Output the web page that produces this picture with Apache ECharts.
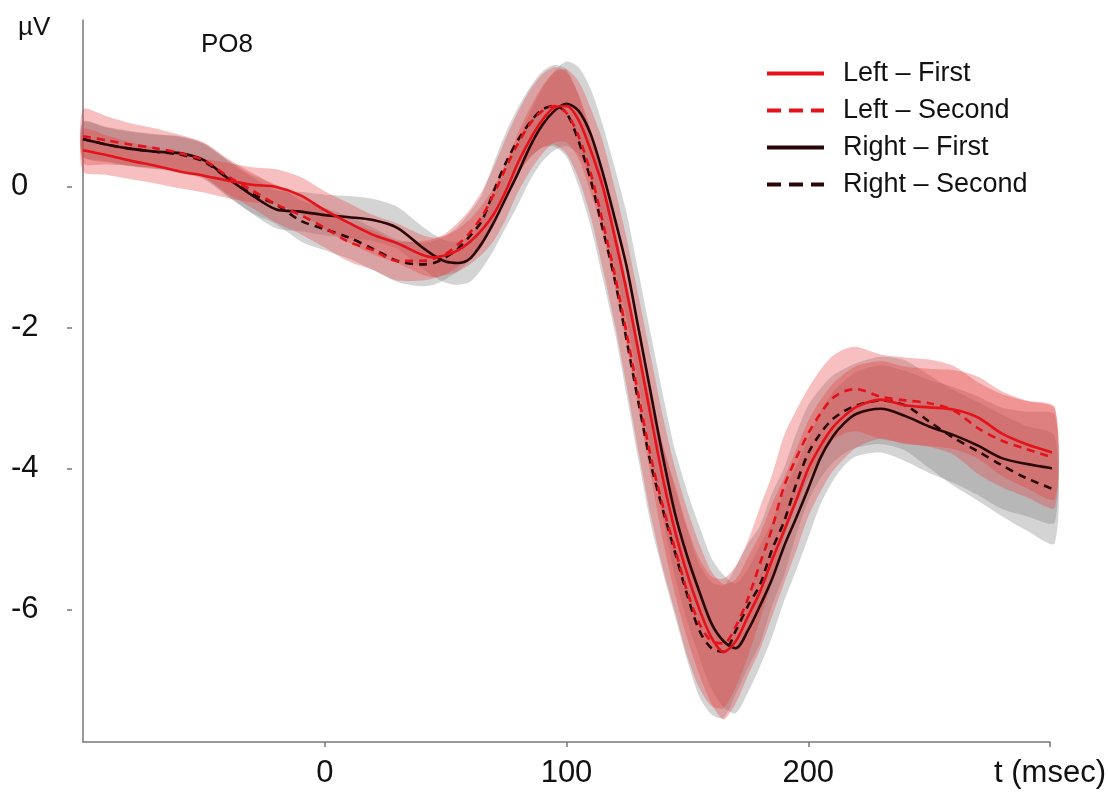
<!DOCTYPE html>
<html>
<head>
<meta charset="utf-8">
<script src="https://cdn.jsdelivr.net/npm/echarts@6/dist/echarts.min.js"></script>
<style>
html,body{margin:0;padding:0;background:#fff;}
#c{width:1108px;height:798px;}
</style>
</head>
<body>
<div id="c"></div>
<script>
// time points (msec)
const T = [-100,-90,-80,-70,-60,-50,-40,-30,-20,-10, 0,10,20,30,40,45,50,55,60,65, 70,75,80,85,90,95,100,105,110,115, 120,125,130,135,140,145,150,155,160,165, 170,175,180,185,190,195,200,205,210,215, 220,230,240,250,260,270,280,290,302];

// mean amplitudes (µV)
const leftFirst = [0.52,0.45,0.37,0.30,0.22,0.16,0.09,0.03,0.00,-0.12, -0.33,-0.51,-0.68,-0.80,-0.96,-1.00,-0.97,-0.90,-0.78,-0.61, -0.38,-0.05,0.35,0.68,0.95,1.13,1.15,0.95,0.52,0.00, -0.72,-1.50,-2.38,-3.28,-4.16,-4.90,-5.50,-6.00,-6.40,-6.60, -6.45,-6.10,-5.75,-5.30,-4.88,-4.45,-4.00,-3.68,-3.42,-3.25, -3.12,-3.02,-3.10,-3.13,-3.16,-3.27,-3.50,-3.65,-3.78];
const leftSecond = [0.72,0.66,0.60,0.55,0.48,0.38,0.15,-0.05,-0.25,-0.40, -0.58,-0.78,-0.90,-1.05,-1.05,-1.02,-0.95,-0.82,-0.65,-0.42, -0.10,0.28,0.62,0.90,1.08,1.15,1.05,0.72,0.20,-0.50, -1.25,-2.10,-3.00,-3.85,-4.55,-5.15,-5.75,-6.20,-6.45,-6.48, -6.24,-5.85,-5.35,-4.85,-4.25,-3.85,-3.50,-3.22,-3.00,-2.90, -2.87,-2.98,-3.03,-3.07,-3.17,-3.42,-3.60,-3.72,-3.85];
const rightFirst = [0.68,0.60,0.54,0.50,0.48,0.38,0.12,-0.12,-0.32,-0.35, -0.40,-0.43,-0.47,-0.58,-0.85,-0.97,-1.06,-1.08,-1.02,-0.80, -0.50,-0.15,0.20,0.58,0.88,1.08,1.18,1.08,0.75,0.20, -0.45,-1.15,-2.05,-2.95,-3.85,-4.65,-5.25,-5.75,-6.20,-6.45, -6.55,-6.30,-5.95,-5.57,-5.10,-4.70,-4.28,-3.85,-3.55,-3.35, -3.22,-3.15,-3.25,-3.40,-3.52,-3.67,-3.85,-3.93,-4.00];
const rightSecond = [0.68,0.60,0.54,0.50,0.46,0.36,0.12,-0.10,-0.25,-0.48, -0.60,-0.72,-0.88,-1.05,-1.10,-1.08,-1.00,-0.88,-0.70,-0.48, -0.05,0.35,0.67,0.92,1.10,1.15,1.05,0.65,0.10,-0.60, -1.32,-2.20,-3.10,-3.95,-4.60,-5.20,-5.80,-6.30,-6.55,-6.60, -6.30,-5.95,-5.65,-5.15,-4.75,-4.22,-3.78,-3.50,-3.30,-3.18, -3.10,-3.03,-3.10,-3.33,-3.56,-3.75,-3.95,-4.13,-4.30];

// shaded error half-widths (µV)
const semLeftFirst = [0.30,0.28,0.26,0.25,0.24,0.24,0.25,0.25,0.25,0.26, 0.27,0.28,0.28,0.28,0.28,0.28,0.28,0.30,0.32,0.35, 0.38,0.40,0.42,0.45,0.48,0.50,0.52,0.55,0.60,0.65, 0.70,0.75,0.80,0.85,0.88,0.90,0.92,0.93,0.94,0.96, 0.88,0.84,0.82,0.80,0.75,0.72,0.68,0.65,0.62,0.60, 0.58,0.55,0.55,0.55,0.56,0.58,0.60,0.62,0.65];
const semLeftSecond = [0.38,0.34,0.30,0.28,0.26,0.25,0.25,0.25,0.26,0.27, 0.28,0.28,0.28,0.28,0.28,0.28,0.29,0.31,0.33,0.36, 0.39,0.42,0.45,0.48,0.52,0.55,0.58,0.60,0.62,0.66, 0.70,0.75,0.80,0.84,0.88,0.90,0.92,0.92,0.92,0.92, 0.86,0.82,0.80,0.76,0.72,0.68,0.64,0.62,0.60,0.60, 0.60,0.60,0.61,0.62,0.63,0.65,0.66,0.68,0.70];
const semRightFirst = [0.24,0.24,0.24,0.24,0.24,0.24,0.25,0.26,0.27,0.28, 0.29,0.30,0.30,0.30,0.30,0.30,0.30,0.31,0.33,0.36, 0.39,0.42,0.45,0.48,0.52,0.56,0.60,0.62,0.64,0.68, 0.72,0.76,0.80,0.84,0.88,0.90,0.92,0.93,0.93,0.94, 0.92,0.88,0.86,0.82,0.78,0.74,0.70,0.66,0.63,0.60, 0.60,0.62,0.64,0.66,0.68,0.70,0.72,0.74,0.76];
const semRightSecond = [0.25,0.25,0.25,0.25,0.25,0.25,0.26,0.27,0.28,0.29, 0.30,0.30,0.30,0.30,0.31,0.31,0.31,0.32,0.34,0.37, 0.40,0.43,0.46,0.50,0.54,0.58,0.62,0.64,0.66,0.70, 0.74,0.78,0.82,0.86,0.89,0.91,0.93,0.94,0.94,0.94, 0.90,0.88,0.84,0.80,0.76,0.72,0.68,0.64,0.62,0.60, 0.60,0.62,0.64,0.66,0.68,0.70,0.72,0.74,0.76];

// axis ticks
const yTicks = [0,-2,-4,-6];
const xTicks = [0,100,200,300];
const xTickLabels = ['0','100','200','t (msec)'];

const names = ['Left – First','Left – Second','Right – First','Right – Second'];
const RED = '#e3121b';
const BLK = '#2a0606';
const SM = 0.3;

function pts(arr){ return T.map((t,i)=>[t, arr[i]]); }
function band(id, mean, sem, color){
  return {
    type:'custom', name:id, silent:true, clip:false, z:1,
    data:[[T[0], mean[0]]],
    renderItem:function(params, api){
      const upper = T.map((t,i)=>api.coord([t, mean[i]+sem[i]]));
      const lower = T.map((t,i)=>api.coord([t, mean[i]-sem[i]])).reverse();
      return {type:'polygon', shape:{points:upper.concat(lower), smooth:0.25},
              style:{fill:color, stroke:null}};
    }
  };
}
function line(name, arr, color, dashed){
  return {type:'line', name:name, data:pts(arr), symbol:'none', smooth:SM, clip:false, z:5,
    lineStyle:{color:color, width:2.6, type: dashed ? [8,6] : 'solid'}, itemStyle:{color:color}};
}

const GREY_BAND = 'rgba(125,125,125,0.33)';
const RED_BAND = 'rgba(232,62,62,0.33)';

const series = [
  band('bRF', rightFirst, semRightFirst, GREY_BAND),
  band('bRS', rightSecond, semRightSecond, GREY_BAND),
  band('bLF', leftFirst, semLeftFirst, RED_BAND),
  band('bLS', leftSecond, semLeftSecond, RED_BAND),
  line(names[3], rightSecond, BLK, true),
  line(names[2], rightFirst, BLK, false),
  line(names[1], leftSecond, RED, true),
  line(names[0], leftFirst, RED, false)
];

const FONT = '"Liberation Sans", Arial, sans-serif';
const chart = echarts.init(document.getElementById('c'), null, {renderer:'canvas'});
chart.setOption({
  animation:false,
  backgroundColor:'#fff',
  textStyle:{fontFamily:FONT},
  title:[
    {text:'µV', left:13, top:10, textStyle:{fontFamily:FONT, fontSize:26, fontWeight:'normal', color:'#111'}},
    {text:'PO8', left:196, top:27, textStyle:{fontFamily:FONT, fontSize:26, fontWeight:'normal', color:'#111'}}
  ],
  legend:{
    orient:'vertical', left:760, top:55, itemWidth:57, itemHeight:20, itemGap:10,
    itemStyle:{opacity:0},
    textStyle:{fontFamily:FONT, fontSize:27, color:'#111', padding:[0,0,0,14]},
    data:[
      {name:names[0], itemStyle:{opacity:0}, lineStyle:{width:4, type:'solid'}},
      {name:names[1], itemStyle:{opacity:0}, lineStyle:{width:4, type:[14,8]}},
      {name:names[2], itemStyle:{opacity:0}, lineStyle:{width:4, type:'solid'}},
      {name:names[3], itemStyle:{opacity:0}, lineStyle:{width:4, type:[14,8]}}
    ]
  },
  grid:{left:83, right:58, top:20, bottom:56, containLabel:false, outerBoundsMode:'none'},
  xAxis:{
    type:'value', min:-100, max:300,
    axisLine:{show:true, onZero:false, lineStyle:{color:'#777', width:1.5}},
    axisTick:{show:true, length:5, customValues:xTicks, lineStyle:{color:'#777', width:1.5}},
    axisLabel:{customValues:xTicks, formatter:(v)=>xTickLabels[xTicks.indexOf(v)], fontSize:31, color:'#111', margin:16, fontFamily:FONT},
    splitLine:{show:false}
  },
  yAxis:[{
    type:'value', min:-7.88, max:2.37,
    axisLine:{show:true, onZero:false, lineStyle:{color:'#777', width:1.5}},
    axisTick:{show:false},
    axisLabel:{customValues:yTicks, fontSize:31, color:'#111', align:'left', margin:72, fontFamily:FONT},
    splitLine:{show:false}
  },{
    type:'value', min:-7.88, max:2.37, position:'left', offset:11,
    axisLine:{show:false, onZero:false},
    axisTick:{show:true, length:5, customValues:yTicks, lineStyle:{color:'#777', width:1.5}},
    axisLabel:{show:false},
    splitLine:{show:false}
  }],
  series:series
});
</script>
</body>
</html>
